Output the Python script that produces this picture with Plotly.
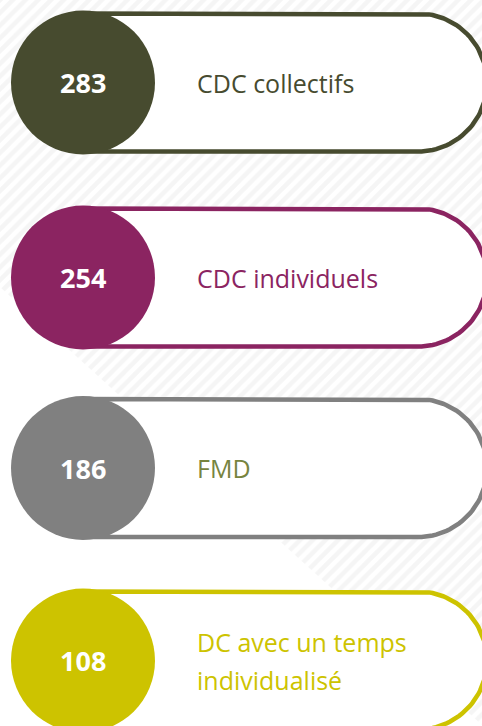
import numpy as np
import plotly.graph_objects as go

# ---- data ----
categories = ["CDC collectifs", "CDC individuels", "FMD", "DC avec un temps<br>individualisé"]
values = [283, 254, 186, 108]

# ---- styles / layout constants ----
main_colors = ["#474b2f", "#8b2461", "#808080", "#cdc300"]
label_colors = ["#474b2f", "#8b2461", "#77843f", "#cdc300"]
W, H = 482, 726
ROW_Y = [82.5, 277.5, 468, 660.5]
CX = 83            # circle centre x
R_CIRCLE = 72      # circle radius
PILL_HALF = 69     # half height of pill (stroke centre)
ARC_CX = 418       # centre of right rounded end
LABEL_X = 195
LINE_GAP = 38
FONT = "Open Sans"

fig = go.Figure()

# hatched background region
fig.add_trace(go.Scatter(
    x=[0, W, W, 0, 0], y=[0, 0, 725, 287, 0],
    mode="lines", line=dict(width=0), fill="toself",
    fillcolor="rgba(0,0,0,0)",
    fillpattern=dict(shape="/", size=9, solidity=0.5, fgcolor="#ebebeb", bgcolor="white"),
    hoverinfo="skip", showlegend=False))

# pills
theta = np.linspace(-np.pi / 2, np.pi / 2, 60)
for i, cy in enumerate(ROW_Y):
    xs = [CX, ARC_CX] + list(ARC_CX + PILL_HALF * np.cos(theta)) + [ARC_CX, CX, CX]
    ys = [cy - PILL_HALF, cy - PILL_HALF] + list(cy + PILL_HALF * np.sin(theta)) + [cy + PILL_HALF, cy + PILL_HALF, cy - PILL_HALF]
    fig.add_trace(go.Scatter(
        x=xs, y=ys, mode="lines", fill="toself", fillcolor="white",
        line=dict(color=main_colors[i], width=4.5),
        hoverinfo="skip", showlegend=False))

# circles
fig.add_trace(go.Scatter(
    x=[CX] * len(values), y=ROW_Y[:len(values)],
    mode="markers",
    marker=dict(size=2 * R_CIRCLE, color=main_colors, line=dict(width=0), opacity=1),
    hoverinfo="skip", showlegend=False, cliponaxis=True))

# values inside circles
for v, cy in zip(values, ROW_Y):
    fig.add_annotation(
        x=CX, y=cy, text=f"<b>{v}</b>", showarrow=False,
        xanchor="center", yanchor="middle",
        font=dict(family=FONT, size=27, color="white"))

# labels
for i, (cat, cy) in enumerate(zip(categories, ROW_Y)):
    lines = cat.split("<br>")
    n = len(lines)
    for k, ln in enumerate(lines):
        fig.add_annotation(
            x=LABEL_X, y=cy + (k - (n - 1) / 2) * LINE_GAP,
            text=ln, showarrow=False, xanchor="left", yanchor="middle",
            font=dict(family=FONT, size=25, color=label_colors[i]))

fig.update_layout(
    width=W, height=H, margin=dict(l=0, r=0, t=0, b=0),
    paper_bgcolor="white", plot_bgcolor="white",
    xaxis=dict(range=[0, W], visible=False, fixedrange=True),
    yaxis=dict(range=[H, 0], visible=False, fixedrange=True),
    hovermode=False, showlegend=False)

fig.write_html("out.html", post_script="document.body.style.margin='0';",
               config={"displayModeBar": False})
